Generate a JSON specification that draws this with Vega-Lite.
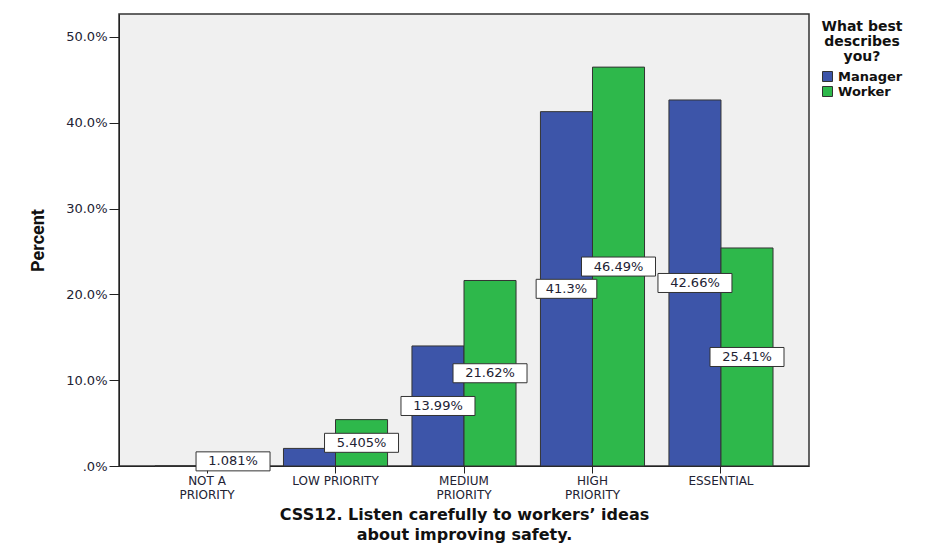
{
  "$schema": "https://vega.github.io/schema/vega-lite/v6.json",
  "width": 690,
  "height": 452,
  "autosize": {"type": "none"},
  "padding": {"left": 119, "top": 14, "right": 122, "bottom": 77},
  "background": "white",
  "config": {
    "font": "DejaVu Sans",
    "view": {"fill": "#f0f0f0", "stroke": "#333333", "strokeWidth": 1.5}
  },
  "data": {
    "values": [
      {"category": "NOT A|PRIORITY", "group": "Manager", "value": 0},
      {"category": "NOT A|PRIORITY", "group": "Worker", "value": 1.081},
      {"category": "LOW PRIORITY", "group": "Manager", "value": 2.05},
      {"category": "LOW PRIORITY", "group": "Worker", "value": 5.405},
      {"category": "MEDIUM|PRIORITY", "group": "Manager", "value": 13.99},
      {"category": "MEDIUM|PRIORITY", "group": "Worker", "value": 21.62},
      {"category": "HIGH|PRIORITY", "group": "Manager", "value": 41.3},
      {"category": "HIGH|PRIORITY", "group": "Worker", "value": 46.49},
      {"category": "ESSENTIAL", "group": "Manager", "value": 42.66},
      {"category": "ESSENTIAL", "group": "Worker", "value": 25.41}
    ]
  },
  "transform": [
    {"calculate": "datum.value / 2", "as": "mid"},
    {"calculate": "format(datum.value, '.4~r') + '%'", "as": "label"}
  ],
  "encoding": {
    "x": {
      "field": "category",
      "type": "nominal",
      "sort": ["NOT A|PRIORITY", "LOW PRIORITY", "MEDIUM|PRIORITY", "HIGH|PRIORITY", "ESSENTIAL"],
      "scale": {"paddingInner": 0.19, "paddingOuter": 0.28},
      "axis": {
        "title": ["CSS12. Listen carefully to workers’ ideas", "about improving safety."],
        "titleFontSize": 16,
        "titleFontWeight": "bold",
        "titleColor": "#111111",
        "titleLineHeight": 20,
        "titlePadding": 6,
        "labelExpr": "split(datum.label, '|')",
        "labelAngle": 0,
        "labelFontSize": 12,
        "labelLineHeight": 14,
        "labelColor": "#222233",
        "labelPadding": 2,
        "tickSize": 7,
        "tickColor": "#222222",
        "domainColor": "#222222"
      }
    },
    "xOffset": {
      "field": "group",
      "type": "nominal",
      "sort": ["Manager", "Worker"],
      "scale": {"paddingInner": 0, "paddingOuter": 0}
    }
  },
  "layer": [
    {
      "mark": {"type": "bar", "stroke": "#333333", "strokeWidth": 1},
      "encoding": {
        "y": {
          "field": "value",
          "type": "quantitative",
          "scale": {"domain": [0, 52.68], "nice": false, "zero": true},
          "axis": {
            "title": "Percent",
            "titleFont": "Roboto",
            "titleFontWeight": "bold",
            "titleFontSize": 18,
            "titleColor": "#111111",
            "titlePadding": 18,
            "values": [0, 10, 20, 30, 40, 50],
            "labelExpr": "datum.value == 0 ? '.0%' : format(datum.value, '.1f') + '%'",
            "labelFontSize": 13,
            "labelColor": "#222233",
            "labelPadding": 2,
            "tickSize": 10,
            "tickColor": "#222222",
            "domainColor": "#222222",
            "grid": false
          }
        },
        "color": {
          "field": "group",
          "type": "nominal",
          "scale": {"domain": ["Manager", "Worker"], "range": ["#3d55a9", "#2eb84b"]},
          "legend": {
            "orient": "none",
            "legendX": 702,
            "legendY": 6,
            "title": ["What best", "describes", "you?"],
            "titleFontSize": 14,
            "titleFontWeight": "bold",
            "titleColor": "#111111",
            "titleAlign": "center",
            "titleAnchor": "middle",
            "titleLineHeight": 15,
            "titlePadding": 6,
            "labelFontSize": 13,
            "labelFontWeight": "bold",
            "labelColor": "#111111",
            "symbolType": "square",
            "symbolSize": 100,
            "symbolStrokeColor": "#333333",
            "symbolStrokeWidth": 1,
            "symbolOpacity": 1,
            "rowPadding": 0
          }
        }
      }
    },
    {
      "transform": [{"filter": "datum.group == 'Worker' || datum.value > 3"}],
      "mark": {
        "type": "point",
        "filled": true,
        "fill": "white",
        "stroke": "#333333",
        "strokeWidth": 1,
        "opacity": 1,
        "size": 5476
      },
      "encoding": {
        "y": {"field": "mid", "type": "quantitative", "title": "Percent"},
        "shape": {
          "condition": {"test": "datum.label == '41.3%'", "value": "M-0.82,-0.257L0.82,-0.257L0.82,0.257L-0.82,0.257Z"},
          "value": "M-1,-0.257L1,-0.257L1,0.257L-1,0.257Z"
        }
      }
    },
    {
      "transform": [{"filter": "datum.group == 'Worker' || datum.value > 3"}],
      "mark": {"type": "text", "fontSize": 13, "color": "#222233", "align": "center", "baseline": "middle"},
      "encoding": {
        "y": {"field": "mid", "type": "quantitative", "title": "Percent"},
        "text": {"field": "label"}
      }
    }
  ]
}
